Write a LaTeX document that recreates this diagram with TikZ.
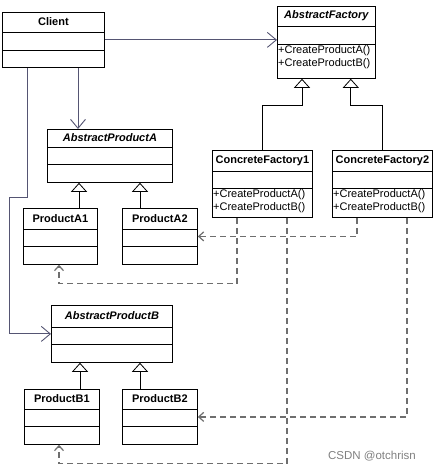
\documentclass[tikz,border=0pt]{standalone}
\usepackage{fontspec}
\setmainfont{Liberation Sans}
\usetikzlibrary{arrows.meta,positioning}

\definecolor{assocline}{RGB}{85,85,115}
\definecolor{depline}{RGB}{110,110,110}

\begin{document}
\begin{tikzpicture}[x=1pt,y=-1pt,
    classbox/.style={draw,line width=0.8pt,anchor=north west,inner sep=0pt},
    divider/.style={line width=0.8pt},
    title/.style={font=\fontsize{11}{12}\selectfont\bfseries,inner sep=0pt},
    abstitle/.style={title,font=\fontsize{11}{12}\selectfont\bfseries\itshape},
    ops/.style={font=\fontsize{11}{13}\selectfont,align=left,anchor=north west,inner sep=1pt},
    assoc/.style={draw=assocline,line width=0.9pt,-{Straight Barb[length=9pt,width=15pt]}},
    inherit/.style={draw=black,line width=0.8pt,-{Triangle[open,length=9pt,width=16pt,fill=white]}},
    depends/.style={draw=depline,line width=1.2pt,dash pattern=on 6pt off 4pt,-{Straight Barb[length=5pt,width=9pt]}}]
  \useasboundingbox (0,0) rectangle (437,471);

  % class boxes: name/x/y/width/height/first divider/second divider
  \foreach \n/\x/\y/\w/\h/\da/\db in {client/2/12/102/55/20/38,
      af/277/6/98/72/20/38, cf1/212/150/100/67/21/38, cf2/332/150/100/67/21/38,
      apa/47/129/125/53/18/35, pa1/23/208/74/56/21/38, pa2/122/208/75/56/21/38,
      apb/51/305/121/57/22/39, pb1/24/389/75/55/20/37, pb2/122/389/75/55/20/37} {
    \node[classbox,minimum width=\w pt,minimum height=\h pt] (\n) at (\x,\y) {};
    \draw[divider] ([yshift=-\da pt]\n.north west) -- ([yshift=-\da pt]\n.north east);
    \draw[divider] ([yshift=-\db pt]\n.north west) -- ([yshift=-\db pt]\n.north east);
  }

  % titles
  \node[title]    at ([yshift=-10pt]client.north) {Client};
  \node[abstitle] at ([yshift=-10pt]af.north)     {AbstractFactory};
  \node[title]    at ([yshift=-10.5pt]cf1.north)  {ConcreteFactory1};
  \node[title]    at ([yshift=-10.5pt]cf2.north)  {ConcreteFactory2};
  \node[abstitle] at ([yshift=-9pt]apa.north)     {AbstractProductA};
  \node[title]    at ([yshift=-10.5pt]pa1.north)  {ProductA1};
  \node[title]    at ([yshift=-10.5pt]pa2.north)  {ProductA2};
  \node[abstitle] at ([yshift=-11pt]apb.north)    {AbstractProductB};
  \node[title]    at ([yshift=-10pt]pb1.north)    {ProductB1};
  \node[title]    at ([yshift=-10pt]pb2.north)    {ProductB2};

  % operations
  \foreach \n in {af,cf1,cf2}
    \node[ops] at ([yshift=-38.5pt]\n.north west) {+CreateProductA()\\+CreateProductB()};

  % client associations
  \draw[assoc] (client.east) -- (client.east -| af.west);
  \draw[assoc] ([xshift=76pt]client.south west) -- ([xshift=76pt]client.south west |- apa.north);
  \draw[assoc] ([xshift=25pt]client.south west) -- ++(0,130) -| ([xshift=-42pt]apb.west) -- (apb.west);

  % generalizations
  \draw[inherit] (cf1.north) -- ++(0,-45) -| ([xshift=25pt]af.south west);
  \draw[inherit] (cf2.north) -- ++(0,-45) -| ([xshift=-25pt]af.south east);
  \draw[inherit] ([xshift=56pt]pa1.north west) -- ([xshift=56pt]pa1.north west |- apa.south);
  \draw[inherit] ([xshift=18pt]pa2.north west) -- ([xshift=18pt]pa2.north west |- apa.south);
  \draw[inherit] ([xshift=56pt]pb1.north west) -- ([xshift=56pt]pb1.north west |- apb.south);
  \draw[inherit] ([xshift=18pt]pb2.north west) -- ([xshift=18pt]pb2.north west |- apb.south);

  % creations
  \draw[depends] ([xshift=25pt]cf1.south west) -- ++(0,66) -| ([xshift=36pt]pa1.south west);
  \draw[depends] ([xshift=25pt]cf2.south west) |- (pa2.east);
  \draw[depends] ([xshift=75pt]cf1.south west) -- ++(0,246) -| ([xshift=35pt]pb1.south west);
  \draw[depends] ([xshift=75pt]cf2.south west) |- (pb2.east);

  \node[text=gray,font=\fontsize{11.5}{13}\selectfont,inner sep=0pt] (mark) at (372,456) {CSDN @otchrisn};
\end{tikzpicture}
\end{document}
